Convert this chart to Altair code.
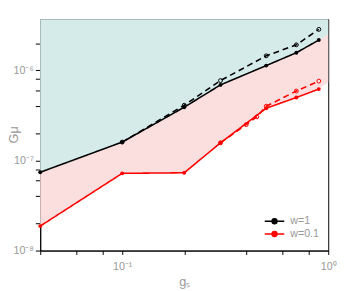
import altair as alt
import pandas as pd

# ---- data ----
g_black_solid = [0.04, 0.1, 0.2, 0.3, 0.5, 0.7, 0.9]
G_black_solid = [7.4e-8, 1.6e-7, 3.9e-7, 6.9e-7, 1.13e-6, 1.57e-6, 2.17e-6]

g_black_dashed = [0.1, 0.2, 0.3, 0.5, 0.7, 0.9]
G_black_dashed = [1.6e-7, 4.1e-7, 7.7e-7, 1.45e-6, 1.92e-6, 2.85e-6]

g_red_solid = [0.04, 0.1, 0.2, 0.3, 0.5, 0.7, 0.9]
G_red_solid = [1.87e-8, 7.2e-8, 7.3e-8, 1.57e-7, 3.8e-7, 5.0e-7, 6.2e-7]

g_red_dashed = [0.3, 0.4, 0.45, 0.5, 0.7, 0.9]
G_red_dashed = [1.57e-7, 2.5e-7, 3.05e-7, 4.0e-7, 5.9e-7, 7.6e-7]

# shaded regions boundaries
g_band = [0.04, 0.1, 0.2, 0.3, 0.5, 0.7, 0.9, 1.0]
G_upper = [7.4e-8, 1.6e-7, 3.9e-7, 6.9e-7, 1.13e-6, 1.57e-6, 2.17e-6, 2.5e-6]
G_lower = [1.87e-8, 7.2e-8, 7.3e-8, 1.57e-7, 3.8e-7, 5.0e-7, 6.2e-7, 7.4e-7]
G_top = 3.7e-6

x_ticks = [0.04, 0.06, 0.08, 0.1, 0.2, 0.4, 0.6, 0.8, 1.0]
y_ticks = [1e-8, 2e-8, 4e-8, 6e-8, 8e-8, 1e-7, 2e-7, 4e-7, 6e-7, 8e-7, 1e-6, 2e-6]

rows = []
for xs, ys, w, st in [
    (g_black_solid, G_black_solid, "w=1", "solid"),
    (g_black_dashed, G_black_dashed, "w=1", "dashed"),
    (g_red_solid, G_red_solid, "w=0.1", "solid"),
    (g_red_dashed, G_red_dashed, "w=0.1", "dashed"),
]:
    for x, y in zip(xs, ys):
        rows.append({"g": x, "G": y, "w": w, "style": st, "series": w + st})
df = pd.DataFrame(rows)

band = pd.DataFrame({"g": g_band, "upper": G_upper, "lower": G_lower,
                     "top": [G_top] * len(g_band)})

GRAY = "#999999"
FONT = "Liberation Sans"

xscale = alt.Scale(type="log", domain=[0.04, 1.0], nice=False)
yscale = alt.Scale(type="log", domain=[1e-8, G_top], nice=False)

xaxis = alt.Axis(values=x_ticks, grid=False, title="gₛ",
                 labelExpr="datum.value == 0.1 ? '10⁻¹' : (datum.value == 1 ? '10⁰' : '')",
                 labelFlush=False, tickSize=4, labelPadding=6, titlePadding=5)
yaxis = alt.Axis(values=y_ticks, grid=False, title="Gμ",
                 labelExpr="datum.value == 1e-8 ? '10⁻⁸' : (datum.value == 1e-7 ? '10⁻⁷' : (datum.value == 1e-6 ? '10⁻⁶' : ''))",
                 labelFlush=False, tickSize=5, labelPadding=2,
                 titleX=-33, titleY=118, titleBaseline="top", titleAlign="center", titleAngle=-90)

X = alt.X("g:Q", scale=xscale, axis=xaxis)

teal = alt.Chart(band).mark_area(color="#d4ebea", opacity=1).encode(
    x=X, y=alt.Y("upper:Q", scale=yscale, axis=yaxis), y2="top:Q")
pink = alt.Chart(band).mark_area(color="#fbdfdf", opacity=1).encode(
    x=X, y=alt.Y("lower:Q", scale=yscale, axis=yaxis), y2="upper:Q")

color = alt.Color("w:N", scale=alt.Scale(domain=["w=1", "w=0.1"], range=["#000000", "#ff0000"]),
                  legend=alt.Legend(title=None, orient="none", legendX=234, legendY=201,
                                    symbolType="M-2,0L2,0M-0.5,0A0.5,0.5,0,1,0,0.5,0A0.5,0.5,0,1,0,-0.5,0Z",
                                    symbolSize=100, symbolStrokeWidth=1.5, labelOffset=10,
                                    labelColor=GRAY, labelFontSize=11, labelFont=FONT,
                                    rowPadding=1))

lines = alt.Chart(df).mark_line(strokeWidth=1.6).encode(
    x=X, y=alt.Y("G:Q", scale=yscale, axis=yaxis), color=color,
    strokeDash=alt.StrokeDash("style:N", scale=alt.Scale(domain=["solid", "dashed"],
                                                         range=[[1, 0], [6, 4]]), legend=None),
    detail="series:N")

pts_filled = alt.Chart(df[df["style"] == "solid"]).mark_point(filled=True, size=16, opacity=1).encode(
    x=X, y=alt.Y("G:Q", scale=yscale, axis=yaxis), color=color)
pts_open = alt.Chart(df[df["style"] == "dashed"]).mark_point(filled=False, size=16, strokeWidth=1, opacity=1).encode(
    x=X, y=alt.Y("G:Q", scale=yscale, axis=yaxis), color=alt.Color("w:N", scale=alt.Scale(domain=["w=1", "w=0.1"], range=["#000000", "#ff0000"]), legend=None))

chart = alt.layer(teal, pink, lines, pts_open, pts_filled).properties(
    width=295, height=237,
    autosize=alt.AutoSizeParams(type="none"),
    padding={"left": 33, "top": 8, "right": 10, "bottom": 40},
).configure_view(stroke="black", strokeWidth=1).configure_axis(
    domainColor="black", tickColor="black", labelColor=GRAY, labelFont=FONT, labelFontSize=11,
    titleColor=GRAY, titleFont=FONT, titleFontSize=13, titleFontWeight="normal",
)

chart.save("out.html", embed_options={"renderer": "svg", "actions": False})
